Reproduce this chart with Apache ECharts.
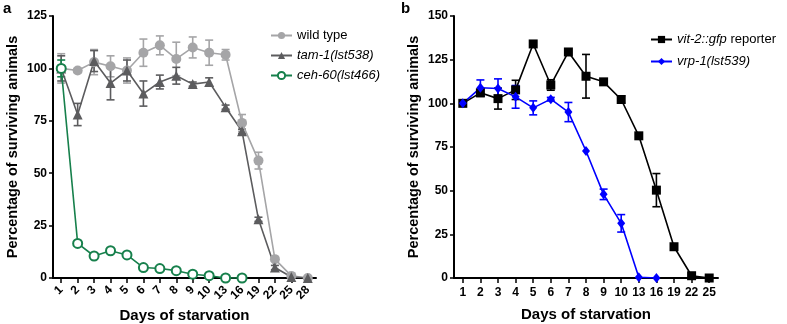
<!DOCTYPE html>
<html>
<head>
<meta charset="utf-8">
<script src="https://cdn.jsdelivr.net/npm/echarts@6/dist/echarts.min.js"></script>
<style>
  html, body { margin: 0; padding: 0; background: #fff; }
  #chart { width: 787px; height: 324px; }
</style>
</head>
<body>
<div id="chart"></div>
<script>
// Panel a: survival during starvation
const daysA = ['1', '2', '3', '4', '5', '6', '7', '8', '9', '10', '13', '16', '19', '22', '25', '28'];
const wildType = [100, 99, 103, 101, 99, 107.5, 111, 104.5, 110, 107.5, 106.5, 74, 56, 9, 1, 0];
const wildTypeErr = [7, 1, 6, 5, 6, 6.5, 4.5, 8, 5, 6, 2.5, 4, 4, 1, 0, 0];
const tam1 = [100, 78, 103.5, 93, 99, 88, 93.5, 96.5, 92.5, 93.5, 81.5, 70, 28, 5, 0.5, 0];
const tam1Err = [6, 5.3, 5, 8, 5, 6, 3.3, 4, 1, 2, 1, 1, 1, 1, 0, 0];
const ceh60 = [100, 16.5, 10.5, 13, 11, 5, 4.5, 3.5, 1.8, 1.1, 0, 0, null, null, null, null];
const ceh60Err = [4, 1, 1, 1, 1, 0.5, 0.5, 0.5, 0.5, 0.5, 0, 0, 0, 0, 0, 0];

// Panel b
const daysB = ['1', '2', '3', '4', '5', '6', '7', '8', '9', '10', '13', '16', '19', '22', '25'];
const vit2 = [100, 106, 102.7, 107.7, 134, 110.5, 129.4, 115.5, 112.3, 102.2, 81.4, 50.3, 17.9, 1.3, 0];
const vit2Err = [0, 2, 6, 5.5, 0, 3, 0, 12.5, 0, 2, 0, 9.5, 0, 0, 0];
const vrp1 = [100, 108.9, 108.5, 103.7, 97.4, 102.4, 95, 72.7, 47.9, 31.3, 0.4, 0, null, null, null];
const vrp1Err = [0, 4.5, 5.5, 6.5, 4, 1, 5.5, 0, 3, 5, 0, 0, 0, 0, 0];

const FONT = '"Liberation Sans", Arial, sans-serif';
const cWild = '#a5a5a7';
const cTam = '#5c5c5e';
const cCeh = '#17804c';
const cVit = '#000000';
const cVrp = '#0000ff';

function errData(mean, err) {
  const out = [];
  mean.forEach((m, i) => {
    if (m != null && err[i] > 0) out.push([i, m, err[i]]);
  });
  return out;
}

function errSeries(mean, err, color, axisIdx, capHalf) {
  return {
    type: 'custom',
    xAxisIndex: axisIdx,
    yAxisIndex: axisIdx,
    z: 1,
    silent: true,
    data: errData(mean, err),
    renderItem: function (params, api) {
      const x = api.value(0);
      const m = api.value(1);
      const e = api.value(2);
      const top = api.coord([x, m + e]);
      const bot = api.coord([x, m - e]);
      const st = { stroke: color, lineWidth: 1.6 };
      return {
        type: 'group',
        children: [
          { type: 'line', shape: { x1: top[0], y1: top[1], x2: bot[0], y2: bot[1] }, style: st },
          { type: 'line', shape: { x1: top[0] - capHalf, y1: top[1], x2: top[0] + capHalf, y2: top[1] }, style: st },
          { type: 'line', shape: { x1: bot[0] - capHalf, y1: bot[1], x2: bot[0] + capHalf, y2: bot[1] }, style: st }
        ]
      };
    }
  };
}

function lineSeries(name, data, color, symbol, size, axisIdx, extra) {
  return Object.assign({
    name: name,
    type: 'line',
    xAxisIndex: axisIdx,
    yAxisIndex: axisIdx,
    data: data,
    symbol: symbol,
    symbolSize: size,
    showAllSymbol: true,
    z: 3,
    lineStyle: { color: color, width: 1.6 },
    itemStyle: { color: color }
  }, extra || {});
}

const axisBase = {
  axisLine: { show: true, lineStyle: { color: '#000', width: 2 } },
  axisTick: { show: true, length: 4, lineStyle: { color: '#000', width: 1.5 } },
  splitLine: { show: false },
  axisLabel: { color: '#000', fontWeight: 'bold', fontSize: 12, fontFamily: FONT }
};

function yAxis(max, gridIdx) {
  return Object.assign({}, axisBase, {
    type: 'value',
    gridIndex: gridIdx,
    min: 0,
    max: max,
    interval: 25,
    axisLabel: Object.assign({}, axisBase.axisLabel, { margin: 6 }),
    name: 'Percentage of surviving animals',
    nameLocation: 'middle',
    nameGap: 33,
    nameTextStyle: { color: '#000', fontWeight: 'bold', fontSize: 14.5, fontFamily: FONT }
  });
}

function xAxis(days, gridIdx, rotate) {
  return Object.assign({}, axisBase, {
    type: 'category',
    gridIndex: gridIdx,
    data: days,
    boundaryGap: true,
    axisTick: Object.assign({}, axisBase.axisTick, { alignWithLabel: true, length: 5 }),
    axisLabel: Object.assign({}, axisBase.axisLabel, { interval: 0, rotate: rotate, margin: rotate ? 10 : 9 }),
    name: 'Days of starvation',
    nameLocation: 'middle',
    nameGap: 29,
    nameTextStyle: { color: '#000', fontWeight: 'bold', fontSize: 15, fontFamily: FONT }
  });
}

const legendText = {
  color: '#000',
  fontSize: 13,
  fontFamily: FONT,
  rich: { i: { fontStyle: 'italic', fontSize: 13, fontFamily: FONT, color: '#000' } }
};

const chart = echarts.init(document.getElementById('chart'), null, { renderer: 'canvas' });

chart.setOption({
  animation: false,
  backgroundColor: '#fff',
  graphic: [
    { type: 'text', left: 3, top: 1, style: { text: 'a', font: 'bold 15px ' + FONT, fill: '#000' } },
    { type: 'text', left: 401, top: 1, style: { text: 'b', font: 'bold 15px ' + FONT, fill: '#000' } }
  ],
  grid: [
    { left: 53, top: 16, width: 263, height: 262, outerBoundsMode: 'none' },
    { left: 454, top: 16, width: 264, height: 262, outerBoundsMode: 'none' }
  ],
  legend: [
    {
      orient: 'vertical', left: 265, top: 24, itemGap: 7, itemWidth: 21, itemHeight: 9,
      data: ['wild type', 'tam-1(lst538)', 'ceh-60(lst466)'],
      textStyle: legendText,
      formatter: name => name === 'wild type' ? name : '{i|' + name + '}'
    },
    {
      orient: 'vertical', left: 645, top: 28, itemGap: 9, itemWidth: 21, itemHeight: 9,
      data: ['vit-2::gfp reporter', 'vrp-1(lst539)'],
      textStyle: legendText,
      formatter: name => name === 'vrp-1(lst539)' ? '{i|' + name + '}' : '{i|vit-2::gfp} reporter'
    }
  ],
  xAxis: [xAxis(daysA, 0, 45), xAxis(daysB, 1, 0)],
  yAxis: [yAxis(125, 0), yAxis(150, 1)],
  series: [
    errSeries(wildType, wildTypeErr, cWild, 0, 4),
    errSeries(tam1, tam1Err, cTam, 0, 4),
    errSeries(ceh60, ceh60Err, cCeh, 0, 4),
    lineSeries('wild type', wildType, cWild, 'circle', 10, 0),
    lineSeries('tam-1(lst538)', tam1, cTam, 'triangle', 10, 0),
    lineSeries('ceh-60(lst466)', ceh60, cCeh, 'circle', 9, 0, {
      itemStyle: { color: '#fff', borderColor: cCeh, borderWidth: 2 }
    }),
    errSeries(vit2, vit2Err, cVit, 1, 4),
    errSeries(vrp1, vrp1Err, cVrp, 1, 4),
    lineSeries('vit-2::gfp reporter', vit2, cVit, 'rect', 9, 1),
    lineSeries('vrp-1(lst539)', vrp1, cVrp, 'diamond', [8, 10], 1)
  ]
});
</script>
</body>
</html>
